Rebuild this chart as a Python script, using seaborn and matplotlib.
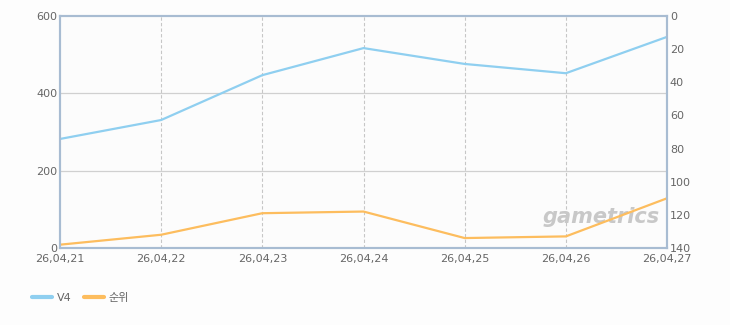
import matplotlib
matplotlib.use("Agg")
import matplotlib.pyplot as plt
import seaborn as sns
import pandas as pd

dates = ["26,04,21", "26,04,22", "26,04,23", "26,04,24", "26,04,25", "26,04,26", "26,04,27"]
v4 = [282, 331, 447, 517, 476, 452, 546]
rank = [138, 132, 119, 118, 134, 133, 110]
left_ticks = [0, 200, 400, 600]
right_ticks = [0, 20, 40, 60, 80, 100, 120, 140]

sns.set_theme(style="white")
plt.rcParams["font.family"] = ["DejaVu Sans", "Noto Sans CJK KR"]

BLUE = "#8fcff0"
ORANGE = "#fdbd5e"
FRAME = "#a8bcd2"
TXT = "#666666"

df = pd.DataFrame({"x": range(len(dates)), "v4": v4, "rank": rank})

fig = plt.figure(figsize=(7.3, 3.25), dpi=100, facecolor="#fdfdfd")
ax = fig.add_axes([60/730, 77/325, 607/730, 232/325])
ax.set_facecolor("#fcfcfc")
ax2 = ax.twinx()

sns.lineplot(data=df, x="x", y="v4", ax=ax, color=BLUE, linewidth=1.6, label="V4", legend=False)
sns.lineplot(data=df, x="x", y="rank", ax=ax2, color=ORANGE, linewidth=1.6, label="순위", legend=False)

ax.set_xlim(0, len(dates) - 1)
ax.set_ylim(0, 600)
ax2.set_ylim(140, 0)
ax.set_xticks(range(len(dates)))
ax.set_xticklabels(dates)
ax.set_yticks(left_ticks)
ax2.set_yticks(right_ticks)
ax.set_xlabel("")
ax.set_ylabel("")
ax2.set_ylabel("")

for y in [200, 400]:
    ax.axhline(y, color="#d0d0d0", linewidth=0.9, zorder=0)
for x in range(1, len(dates) - 1):
    ax.axvline(x, color="#c6c6c6", linewidth=0.8, linestyle=(0, (3, 2)), zorder=0)

for a in (ax, ax2):
    for s in a.spines.values():
        s.set_color(FRAME)
        s.set_linewidth(1.5)
    a.tick_params(length=0, labelsize=8, colors=TXT, pad=2)
ax.tick_params(axis="x", pad=4)

ax.text(0.988, 0.09, "gametrics", transform=ax.transAxes, ha="right", va="bottom",
        fontsize=15, fontstyle="italic", fontweight="bold", color="#c8c8c8", zorder=1)

h1, l1 = ax.get_legend_handles_labels()
h2, l2 = ax2.get_legend_handles_labels()
leg = fig.legend(h1 + h2, l1 + l2, loc="lower left", bbox_to_anchor=(22/730, 12/325), ncol=2,
                 frameon=False, fontsize=8, labelcolor=TXT, handlelength=1.8, columnspacing=1.1,
                 handletextpad=0.45)
for ln in leg.get_lines():
    ln.set_linewidth(3)

fig.savefig("out.png", dpi=100, facecolor=fig.get_facecolor())
